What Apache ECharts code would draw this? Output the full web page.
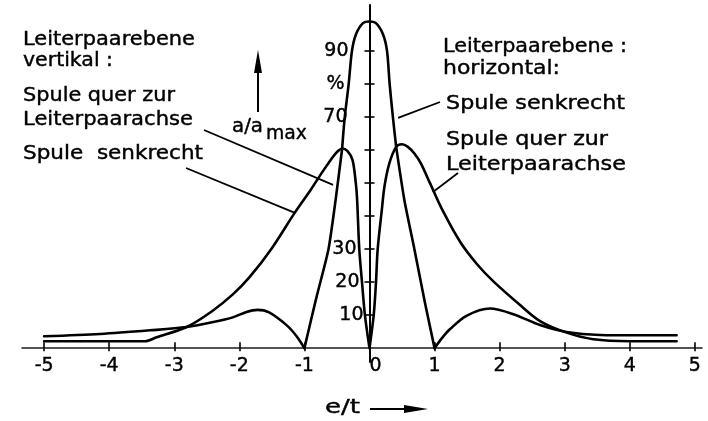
<!DOCTYPE html>
<html>
<head>
<meta charset="utf-8">
<script src="https://cdn.jsdelivr.net/npm/echarts@6/dist/echarts.min.js"></script>
<style>
  html, body { margin: 0; padding: 0; background: #fff; }
  #chart { width: 708px; height: 421px; }
</style>
</head>
<body>
<div id="chart"></div>
<script>
// Axis ticks and labels
const xTicks = [-5, -4, -3, -2, -1, 0, 1, 2, 3, 4, 5];
const yTicks = [10, 20, 30, 40, 50, 60, 70, 80, 90];
const yLabels = [10, 20, 30, 70, 80, 90]; // 80 carries the "%" sign

// a/a_max (%) over e/t.
// Leiterpaarebene horizontal, Spule senkrecht (= vertikal, Spule quer):
// central maximum, zeros at e/t = ±1, side lobes and tails beyond.
const senkrechtLobeLeft = [[-5, 3.6], [-4.14, 4.3], [-3.37, 5.4], [-2.81, 6.4], [-2.4, 7.9], [-2.09, 9.4], [-1.9, 10.9], [-1.72, 11.6], [-1.55, 10.9], [-1.27, 6.9], [-1.12, 3.6], [-1, 0]];
const senkrechtFlankLeft = [[-1, 0], [-0.82, 15], [-0.63, 30], [-0.52, 45], [-0.42, 60.5]];
const senkrechtPeak = [[-0.42, 60.5], [-0.38, 70], [-0.32, 80], [-0.27, 90], [-0.21, 95], [-0.1, 98.5], [0, 99], [0.1, 98.5], [0.21, 95], [0.27, 90], [0.31, 80], [0.36, 70], [0.41, 61]];
const senkrechtFlankRight = [[0.41, 61], [0.535, 45], [0.69, 30], [0.85, 14], [1, 0]];
const senkrechtLobeRight = [[1, 0], [1.12, 3.2], [1.24, 5.8], [1.49, 9.8], [1.85, 12.0], [2.21, 10.3], [2.62, 7.0], [3.03, 4.9], [3.55, 4.0], [4.1, 3.9], [4.72, 3.9]];

// Leiterpaarebene horizontal, Spule quer zur Leiterpaarachse (= vertikal, Spule senkrecht):
// zero at e/t = 0, twin maxima, broad decay.
const querLeft = [[-5, 2.1], [-3.45, 2.1], [-3.27, 3.3], [-2.81, 6.4], [-2.42, 11.2], [-2.1, 16.3], [-1.84, 21.6], [-1.5, 30.3], [-1.15, 41], [-0.91, 47.8], [-0.72, 53.5], [-0.56, 58], [-0.48, 59.8], [-0.42, 60.5], [-0.34, 59.8], [-0.26, 57], [-0.21, 50], [-0.19, 45], [-0.157, 30], [-0.115, 20], [-0.07, 10], [0, 0]];
const querRight = [[0, 0], [0.065, 10], [0.1, 20], [0.126, 30], [0.19, 42], [0.23, 49], [0.305, 56], [0.41, 61], [0.5, 61.8], [0.59, 61], [0.69, 59], [0.79, 56], [0.93, 50], [1.13, 41.5], [1.4, 32], [1.65, 25.5], [1.9, 20.3], [2.3, 13.3], [2.62, 8.2], [3.03, 4.7], [3.44, 2.7], [4.0, 2.1], [4.72, 2.1]];

const FONT = 'DejaVu Sans';
const INK = '#000';

// Plot area and value ranges
const GRID = { left: 22, right: 6, top: 5, bottom: 59 };
const X_MIN = -5.34, X_MAX = 5.11;
const Y_MIN = -4.2, Y_MAX = 104;
const W = 708, H = 421;
const gridW = W - GRID.left - GRID.right;
const gridH = H - GRID.top - GRID.bottom;
// axes cross at the origin
const yAxisShift = -((0 - X_MIN) / (X_MAX - X_MIN)) * gridW;
const xAxisShift = -((0 - Y_MIN) / (Y_MAX - Y_MIN)) * gridH;

const chart = echarts.init(document.getElementById('chart'), null, { renderer: 'canvas' });

function curve(data, smooth) {
  return {
    type: 'line', data: data, xAxisIndex: 0, yAxisIndex: 0,
    showSymbol: false, symbol: 'none', smooth: smooth, silent: true,
    lineStyle: { color: INK, width: 2.6, cap: 'round', join: 'round' }
  };
}

function richNum(pad) {
  return { padding: [0, pad, 0, 0], fontSize: 19, fontFamily: FONT, color: INK, textBorderColor: INK, textBorderWidth: 0.4 };
}
const yRich = { n10: richNum(2), n20: richNum(6), n30: richNum(9), n70: richNum(18), n90: richNum(17), u: richNum(21) };

const option = {
  animation: false,
  backgroundColor: '#fff',
  grid: { left: GRID.left, right: GRID.right, top: GRID.top, bottom: GRID.bottom, containLabel: false, outerBoundsMode: 'none' },
  xAxis: [
    {
      type: 'value', min: X_MIN, max: X_MAX, position: 'bottom', offset: xAxisShift,
      axisLine: { onZero: false, lineStyle: { color: '#1a1a1a', width: 1.5 } },
      axisTick: { inside: true, length: 6, customValues: xTicks, lineStyle: { color: INK, width: 1.6 } },
      axisLabel: {
        customValues: xTicks, margin: 8, fontSize: 19, fontFamily: FONT, color: INK,
        textBorderColor: INK, textBorderWidth: 0.4,
        formatter: v => (v === 0 ? '{z|0}' : String(v)),
        rich: { z: { padding: [0, 0, 0, 12], fontSize: 19, fontFamily: FONT, color: INK, textBorderColor: INK, textBorderWidth: 0.4 } }
      },
      splitLine: { show: false }
    },
    {
      type: 'value', min: X_MIN, max: X_MAX, position: 'bottom', offset: xAxisShift,
      axisLine: { show: false, onZero: false },
      axisTick: { inside: false, length: 3, customValues: xTicks, lineStyle: { color: INK, width: 1.6 } },
      axisLabel: { show: false },
      splitLine: { show: false }
    }
  ],
  yAxis: [
    {
      type: 'value', min: Y_MIN, max: Y_MAX, position: 'left', offset: yAxisShift,
      axisLine: { onZero: false, lineStyle: { color: INK, width: 2 } },
      axisTick: { inside: false, length: 5, customValues: yTicks, lineStyle: { color: INK, width: 1.6 } },
      axisLabel: {
        customValues: yLabels, margin: 4, fontSize: 19, fontFamily: FONT, color: INK,
        formatter: v => (v === 80 ? '{u|%}' : '{n' + v + '|' + v + '}'),
        rich: yRich
      },
      splitLine: { show: false }
    },
    {
      type: 'value', min: Y_MIN, max: Y_MAX, position: 'left', offset: yAxisShift,
      axisLine: { show: false, onZero: false },
      axisTick: { inside: true, length: 5, customValues: yTicks, lineStyle: { color: INK, width: 1.6 } },
      axisLabel: { show: false },
      splitLine: { show: false }
    }
  ],
  series: [
    curve(senkrechtLobeLeft, 0.3),
    curve(senkrechtFlankLeft, 0.2),
    curve(senkrechtPeak, 0.3),
    curve(senkrechtFlankRight, 0.2),
    curve(senkrechtLobeRight, 0.3),
    curve(querLeft, 0.3),
    curve(querRight, 0.3)
  ]
};

chart.setOption(option);

// Lettering: stretched horizontally to the wide spacing of technical lettering
const measureCtx = document.createElement('canvas').getContext('2d');
function label(str, x, y, size, width) {
  measureCtx.font = size + 'px "' + FONT + '"';
  const w = measureCtx.measureText(str).width;
  return {
    type: 'text', x: x, y: y, scaleX: width ? width / w : 1, silent: true,
    style: { text: str, fontSize: size, fontFamily: FONT, fill: INK, stroke: INK, lineWidth: 0.4, align: 'left', verticalAlign: 'middle' }
  };
}

function pointer(x1, y1, dataEnd) {
  const p = chart.convertToPixel({ seriesIndex: 0 }, dataEnd);
  return { type: 'line', silent: true, shape: { x1: x1, y1: y1, x2: p[0], y2: p[1] }, style: { stroke: INK, lineWidth: 1.8 } };
}

const graphics = [
  label('Leiterpaarebene', 23, 40, 19, 172),
  label('vertikal :', 23, 61.5, 19, 90),
  label('Spule quer zur', 23, 96.5, 19, 152),
  label('Leiterpaarachse', 23, 120, 19, 170),
  label('Spule  senkrecht', 23, 154.5, 19, 180),

  label('Leiterpaarebene :', 443, 47, 19, 184),
  label('horizontal:', 443, 69.5, 19, 117),
  label('Spule senkrecht', 446, 104.5, 19, 179),
  label('Spule quer zur', 446, 140.5, 19, 162),
  label('Leiterpaarachse', 446, 165, 19, 180),

  // ordinate title with arrow
  label('a/a', 232, 127, 19, 31),
  label('max', 266, 134, 19, 41),
  { type: 'line', silent: true, shape: { x1: 258, y1: 112, x2: 258, y2: 70 }, style: { stroke: INK, lineWidth: 2 } },
  { type: 'polygon', silent: true, shape: { points: [[254, 73], [262, 73], [258, 50]] }, style: { fill: INK } },

  // abscissa title with arrow
  label('e/t', 325, 408, 19, 35),
  { type: 'line', silent: true, shape: { x1: 370, y1: 409, x2: 408, y2: 409 }, style: { stroke: INK, lineWidth: 2 } },
  { type: 'polygon', silent: true, shape: { points: [[404, 405], [404, 413], [428, 409]] }, style: { fill: INK } },

  // leader lines from the captions to their curves
  pointer(204, 130, [-0.56, 49.5]),
  pointer(186, 168, [-1.145, 41]),
  pointer(440, 102, [0.44, 69.8]),
  pointer(458, 173, [0.976, 47.3])
];

chart.setOption({ graphic: { elements: graphics } });
</script>
</body>
</html>
